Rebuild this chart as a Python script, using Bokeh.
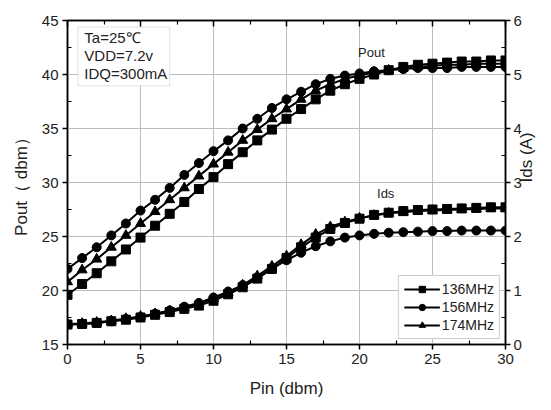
import math
from bokeh.plotting import figure
from bokeh.models import (Range1d, LinearAxis, Legend, LegendItem, Label, BoxAnnotation,
                          FixedTicker)
from bokeh.embed import file_html
from bokeh.resources import INLINE

pin = list(range(0, 31))

pout_136 = [19.6, 20.6, 21.6, 22.7, 23.8, 24.9, 26.0, 27.1, 28.2, 29.4, 30.5, 31.7, 32.8, 33.9,
            34.9, 35.9, 36.8, 37.7, 38.5, 39.1, 39.6, 40.0, 40.4, 40.7, 40.9, 41.0, 41.1, 41.2,
            41.2, 41.3, 41.3]
pout_156 = [22.0, 23.0, 24.0, 25.1, 26.2, 27.4, 28.4, 29.5, 30.7, 31.8, 32.9, 33.9, 35.0, 35.9,
            36.9, 37.7, 38.4, 39.1, 39.6, 39.9, 40.1, 40.3, 40.4, 40.5, 40.6, 40.6, 40.6, 40.7,
            40.7, 40.7, 40.7]
pout_174 = [20.8, 21.9, 22.9, 24.0, 25.1, 26.2, 27.3, 28.4, 29.5, 30.6, 31.7, 32.8, 33.9, 34.9,
            35.9, 36.8, 37.7, 38.5, 39.1, 39.6, 39.9, 40.2, 40.4, 40.6, 40.7, 40.8, 40.9, 40.9,
            41.0, 41.0, 41.0]

ids_136 = [0.37, 0.38, 0.40, 0.43, 0.46, 0.50, 0.55, 0.60, 0.66, 0.72, 0.81, 0.93, 1.06, 1.22,
           1.40, 1.60, 1.80, 1.98, 2.14, 2.25, 2.33, 2.40, 2.44, 2.47, 2.49, 2.50, 2.51, 2.52,
           2.53, 2.54, 2.54]
ids_156 = [0.37, 0.38, 0.40, 0.43, 0.47, 0.51, 0.57, 0.63, 0.70, 0.77, 0.87, 0.98, 1.10, 1.24,
           1.40, 1.56, 1.70, 1.82, 1.91, 1.98, 2.02, 2.05, 2.07, 2.08, 2.09, 2.10, 2.10, 2.11,
           2.11, 2.11, 2.11]
ids_174 = [0.38, 0.39, 0.41, 0.44, 0.48, 0.52, 0.57, 0.62, 0.68, 0.75, 0.85, 0.96, 1.10, 1.27,
           1.45, 1.64, 1.85, 2.04, 2.18, 2.27, 2.34, 2.39, 2.43, 2.45, 2.47, 2.48, 2.49, 2.50,
           2.51, 2.52, 2.52]

series = [("136MHz", "square", pout_136, ids_136),
          ("156MHz", "circle", pout_156, ids_156),
          ("174MHz", "triangle", pout_174, ids_174)]

x_ticks = [0, 5, 10, 15, 20, 25, 30]
y_ticks = [15, 20, 25, 30, 35, 40, 45]
ids_ticks = [0, 1, 2, 3, 4, 5, 6]

FONT = "Liberation Sans"
TXT = "#222222"

p = figure(width=548, height=402, output_backend="svg", toolbar_location=None,
           x_range=Range1d(0, 30), y_range=Range1d(15, 45),
           min_border_left=67, min_border_right=43, min_border_top=20, min_border_bottom=58)
p.extra_y_ranges = {"ids": Range1d(0, 6)}

p.outline_line_color = "black"
p.outline_line_width = 1.5
p.background_fill_color = "white"
p.border_fill_color = "white"

p.xgrid.ticker = FixedTicker(ticks=x_ticks)
p.ygrid.ticker = FixedTicker(ticks=y_ticks)
for g in (p.xgrid, p.ygrid):
    g.grid_line_color = "#bdbdbd"
    g.grid_line_width = 1

def style_axis(ax, ticks, minor_count, labels=True):
    ax.ticker = FixedTicker(ticks=ticks, minor_ticks=minor_count)
    ax.axis_line_color = "black"
    ax.axis_line_width = 1.5
    ax.major_tick_line_color = "black"
    ax.major_tick_line_width = 1.5
    ax.minor_tick_line_color = "black"
    ax.minor_tick_line_width = 1.2
    ax.major_tick_out = 5
    ax.major_tick_in = 0
    ax.minor_tick_out = 0
    ax.minor_tick_in = 4
    ax.major_label_standoff = 4
    ax.major_label_text_font = FONT
    ax.major_label_text_font_size = "15px"
    ax.major_label_text_color = TXT
    ax.axis_label_text_font = FONT
    ax.axis_label_text_font_size = "17px"
    ax.axis_label_text_font_style = "normal"
    ax.axis_label_text_color = TXT
    if not labels:
        ax.major_label_text_font_size = "0px"
        ax.major_label_text_color = None

xa = p.xaxis[0]
style_axis(xa, x_ticks, [2.5 + 5 * i for i in range(6)])
xa.axis_label = "Pin (dbm)"
xa.axis_label_standoff = 12
ya = p.yaxis[0]
style_axis(ya, y_ticks, [17.5 + 5 * i for i in range(6)])
ya.axis_label = "Pout（ dbm）"
ya.axis_label_standoff = 8

ra = LinearAxis(y_range_name="ids", axis_label="Ids (A)")
style_axis(ra, ids_ticks, [0.5 + i for i in range(6)])
ra.major_label_standoff = 3
ra.axis_label_standoff = 2
ra.axis_label_orientation = math.pi / 2
p.add_layout(ra, "right")

ta = LinearAxis()
style_axis(ta, x_ticks, [2.5 + 5 * i for i in range(6)], labels=False)
ta.major_tick_out = 0
ta.major_tick_in = 6
ta.major_label_standoff = 0
p.add_layout(ta, "above")

items = []
for name, marker, pv, iv in series:
    sz = 10 if marker == "triangle" else 9
    l1 = p.line(pin, pv, line_color="black", line_width=2)
    s1 = p.scatter(pin, pv, marker=marker, size=sz, fill_color="black", line_color="black")
    p.line(pin, iv, line_color="black", line_width=2, y_range_name="ids")
    p.scatter(pin, iv, marker=marker, size=sz, fill_color="black", line_color="black",
              y_range_name="ids")
    items.append(LegendItem(label=name, renderers=[l1, s1]))

legend = Legend(items=items, location="bottom_right",
                label_text_font=FONT, label_text_font_size="14px", label_text_color=TXT,
                glyph_width=36, glyph_height=16, spacing=2, padding=5, margin=5,
                label_standoff=2, label_height=16,
                border_line_color="#9a9a9a", border_line_width=1,
                background_fill_color="white", background_fill_alpha=1)
p.add_layout(legend)

# annotation box
p.add_layout(BoxAnnotation(left=0.72, right=7.0, bottom=38.95, top=44.4,
                           fill_color="white", fill_alpha=1,
                           line_color="#9a9a9a", line_width=1))
for txt, yy in [("Ta=25℃", 43.4), ("VDD=7.2v", 41.75), ("IDQ=300mA", 40.1)]:
    p.add_layout(Label(x=1.15, y=yy, text=txt, text_font=FONT, text_font_size="15px",
                       text_color=TXT, text_baseline="middle", text_align="left"))

p.add_layout(Label(x=19.9, y=42.0, text="Pout", text_font=FONT, text_font_size="13px",
                   text_color=TXT, text_baseline="middle", text_align="left"))
p.add_layout(Label(x=21.2, y=29.0, text="Ids", text_font=FONT, text_font_size="13px",
                   text_color=TXT, text_baseline="middle", text_align="left"))

open("out.html", "w").write(file_html(p, INLINE))
